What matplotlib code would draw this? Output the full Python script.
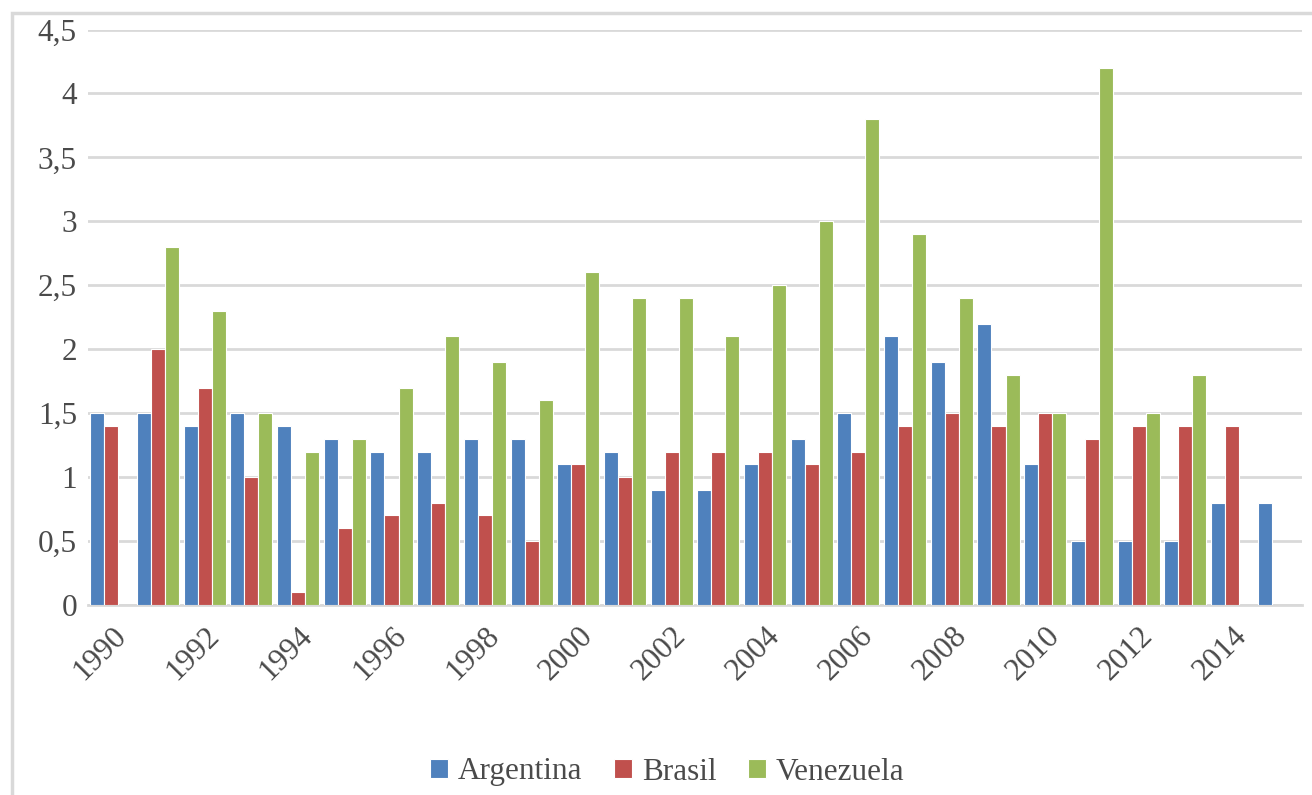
import numpy as np
import matplotlib.pyplot as plt
from matplotlib.patches import Rectangle

plt.rcParams['font.family'] = ['Liberation Serif', 'DejaVu Serif']

years = list(range(1990, 2016))
argentina = [1.5, 1.5, 1.4, 1.5, 1.4, 1.3, 1.2, 1.2, 1.3, 1.3, 1.1, 1.2, 0.9,
             0.9, 1.1, 1.3, 1.5, 2.1, 1.9, 2.2, 1.1, 0.5, 0.5, 0.5, 0.8, 0.8]
brasil = [1.4, 2.0, 1.7, 1.0, 0.1, 0.6, 0.7, 0.8, 0.7, 0.5, 1.1, 1.0, 1.2,
          1.2, 1.2, 1.1, 1.2, 1.4, 1.5, 1.4, 1.5, 1.3, 1.4, 1.4, 1.4, np.nan]
venezuela = [np.nan, 2.8, 2.3, 1.5, 1.2, 1.3, 1.7, 2.1, 1.9, 1.6, 2.6, 2.4, 2.4,
             2.1, 2.5, 3.0, 3.8, 2.9, 2.4, 1.8, 1.5, 4.2, 1.5, 1.8, np.nan, np.nan]
series_names = ['Argentina', 'Brasil', 'Venezuela']
colors = ['#4F81BD', '#C0504D', '#9BBB59']
txt_color = '#4a4a4a'

fig = plt.figure(figsize=(13.12, 7.95), dpi=100)
ax = fig.add_axes([88/1312, 190/795, 1214/1312, 575.5/795])

# light gray border around the chart area
fig.patches.append(Rectangle((12/1312, -0.1), 1.2, (782/795) + 0.1,
                             transform=fig.transFigure, fill=False,
                             edgecolor='#d9d9d9', linewidth=2.5))

x = np.arange(len(years))
w = 0.3
for i, (vals, name, c) in enumerate(zip([argentina, brasil, venezuela], series_names, colors)):
    ax.bar(x + (i - 1) * w, vals, w, color=c, edgecolor='white', linewidth=0.8,
           label=name, zorder=3)

ax.set_xlim(-0.5, len(years) - 0.5)
ax.set_ylim(0, 4.5)
yt = np.arange(0, 4.51, 0.5)
ax.set_yticks(yt)
ax.set_yticklabels([('%g' % v).replace('.', ',') for v in yt], fontsize=22.5, color=txt_color)
ax.grid(axis='y', color='#d9d9d9', linewidth=2, zorder=0)
ax.tick_params(length=0)
ax.tick_params(axis='y', pad=8)

ax.set_xticks(x[::2])
ax.set_xticklabels([str(y) for y in years[::2]], rotation=45, ha='right',
                   rotation_mode='anchor', fontsize=22.5, color=txt_color)
ax.tick_params(axis='x', pad=12)

for s in ['top', 'right', 'left']:
    ax.spines[s].set_visible(False)
ax.spines['bottom'].set_color('#d9d9d9')
ax.spines['bottom'].set_linewidth(2)

fig.legend(loc='center', bbox_to_anchor=(667/1312, 1 - 772/795), ncol=3,
           frameon=False, fontsize=22.5, handlelength=0.6, handleheight=0.6,
           handletextpad=0.3, columnspacing=1.0, labelcolor=txt_color)

fig.savefig('out.png', dpi=100)
